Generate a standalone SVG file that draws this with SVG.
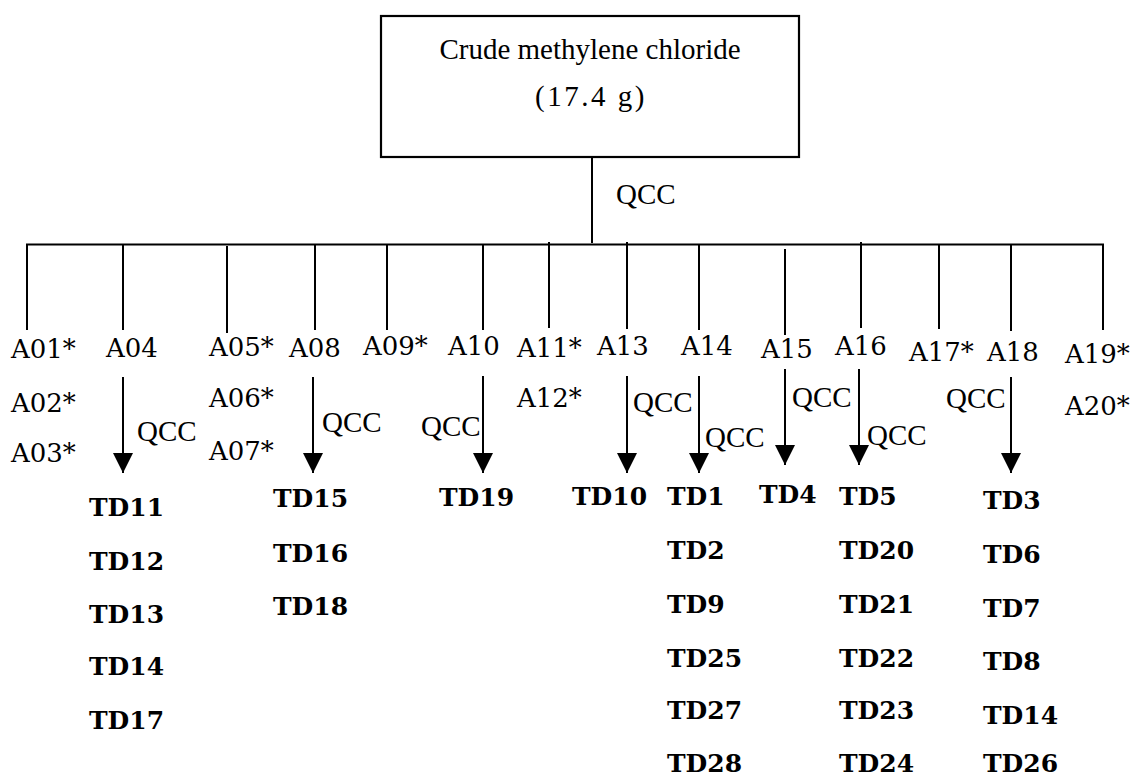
<svg xmlns="http://www.w3.org/2000/svg" width="1135" height="776" viewBox="0 0 1135 776">
  <style>
    .ln { stroke: #000; stroke-width: 2; fill: none; }
    .box { stroke: #000; stroke-width: 2.2; fill: #fff; }
    .times { font-family: "Liberation Serif", "Times New Roman", serif; font-size: 29px; fill: #000; }
    .frac { font-family: "DejaVu Serif", "Liberation Serif", serif; font-size: 26px; fill: #000; }
    .td { font-family: "DejaVu Serif", "Liberation Serif", serif; font-size: 25px; font-weight: bold; fill: #000; }
  </style>
  <defs>
    <marker id="head" viewBox="0 0 20 20" refX="20" refY="10" markerWidth="20" markerHeight="20" markerUnits="userSpaceOnUse" orient="auto">
      <path d="M0,0 L20,10 L0,20 Z" fill="#000"/>
    </marker>
  </defs>
  <rect width="1135" height="776" fill="#fff"/>

  <!-- source sample -->
  <g id="crude">
    <rect class="box" x="381" y="16" width="418" height="141"/>
    <text class="times" x="590" y="59" text-anchor="middle">Crude methylene chloride</text>
    <text class="times" x="591" y="106" text-anchor="middle" letter-spacing="2.5">(17.4 g)</text>
  </g>

  <!-- connectors: splitter tree and QCC arrows -->
  <g id="connectors">
    <line class="ln" x1="592" y1="157" x2="592" y2="243"/>
    <line class="ln" x1="26" y1="244.5" x2="1104" y2="244.5"/>
    <line class="ln" x1="27" y1="244" x2="27" y2="330"/>
    <line class="ln" x1="123" y1="244" x2="123" y2="330"/>
    <line class="ln" x1="227" y1="246" x2="227" y2="333"/>
    <line class="ln" x1="315" y1="244" x2="315" y2="330"/>
    <line class="ln" x1="387" y1="244" x2="387" y2="330"/>
    <line class="ln" x1="483" y1="244" x2="483" y2="330"/>
    <line class="ln" x1="549" y1="242" x2="549" y2="328"/>
    <line class="ln" x1="627" y1="242" x2="627" y2="329"/>
    <line class="ln" x1="699" y1="244" x2="699" y2="330"/>
    <line class="ln" x1="785" y1="249" x2="785" y2="335"/>
    <line class="ln" x1="861" y1="242" x2="861" y2="328"/>
    <line class="ln" x1="939" y1="244" x2="939" y2="329"/>
    <line class="ln" x1="1011" y1="244" x2="1011" y2="331"/>
    <line class="ln" x1="1103" y1="244" x2="1103" y2="330"/>

    <line class="ln" x1="123" y1="377" x2="123" y2="473" marker-end="url(#head)"/>
    <line class="ln" x1="313" y1="377" x2="313" y2="473" marker-end="url(#head)"/>
    <line class="ln" x1="483" y1="376" x2="483" y2="473" marker-end="url(#head)"/>
    <line class="ln" x1="627" y1="376" x2="627" y2="473" marker-end="url(#head)"/>
    <line class="ln" x1="699" y1="376" x2="699" y2="473" marker-end="url(#head)"/>
    <line class="ln" x1="785" y1="369" x2="785" y2="465" marker-end="url(#head)"/>
    <line class="ln" x1="859" y1="369" x2="859" y2="465" marker-end="url(#head)"/>
    <line class="ln" x1="1011" y1="377" x2="1011" y2="473" marker-end="url(#head)"/>

    <text class="times" x="616" y="204">QCC</text>
    <text class="times" x="137" y="441">QCC</text>
    <text class="times" x="322" y="432">QCC</text>
    <text class="times" x="421" y="436">QCC</text>
    <text class="times" x="633" y="412">QCC</text>
    <text class="times" x="705" y="447">QCC</text>
    <text class="times" x="792" y="407">QCC</text>
    <text class="times" x="867" y="445">QCC</text>
    <text class="times" x="946" y="408">QCC</text>
  </g>

  <!-- fractions -->
  <g id="f-a01"><text class="frac" x="11" y="358">A01*</text><text class="frac" x="11" y="412">A02*</text><text class="frac" x="11" y="462">A03*</text></g>
  <g id="f-a04"><text class="frac" x="106" y="357">A04</text></g>
  <g id="f-a05"><text class="frac" x="209" y="356">A05*</text><text class="frac" x="209" y="407">A06*</text><text class="frac" x="209" y="460">A07*</text></g>
  <g id="f-a08"><text class="frac" x="289" y="357">A08</text></g>
  <g id="f-a09"><text class="frac" x="363" y="355">A09*</text></g>
  <g id="f-a10"><text class="frac" x="448" y="355">A10</text></g>
  <g id="f-a11"><text class="frac" x="517" y="357">A11*</text><text class="frac" x="517" y="407">A12*</text></g>
  <g id="f-a13"><text class="frac" x="597" y="355">A13</text></g>
  <g id="f-a14"><text class="frac" x="681" y="355">A14</text></g>
  <g id="f-a15"><text class="frac" x="761" y="358">A15</text></g>
  <g id="f-a16"><text class="frac" x="835" y="355">A16</text></g>
  <g id="f-a17"><text class="frac" x="909" y="361">A17*</text></g>
  <g id="f-a18"><text class="frac" x="987" y="361">A18</text></g>
  <g id="f-a19"><text class="frac" x="1065" y="363">A19*</text><text class="frac" x="1065" y="415">A20*</text></g>

  <!-- isolated compounds -->
  <g id="td-a04">
    <text class="td" x="89" y="516">TD11</text>
    <text class="td" x="89" y="570">TD12</text>
    <text class="td" x="89" y="623">TD13</text>
    <text class="td" x="89" y="675">TD14</text>
    <text class="td" x="89" y="729">TD17</text>
  </g>
  <g id="td-a08">
    <text class="td" x="273" y="507">TD15</text>
    <text class="td" x="273" y="562">TD16</text>
    <text class="td" x="273" y="615">TD18</text>
  </g>
  <g id="td-a10"><text class="td" x="439" y="506">TD19</text></g>
  <g id="td-a13"><text class="td" x="572" y="505">TD10</text></g>
  <g id="td-a14">
    <text class="td" x="667" y="505">TD1</text>
    <text class="td" x="667" y="559">TD2</text>
    <text class="td" x="667" y="613">TD9</text>
    <text class="td" x="667" y="667">TD25</text>
    <text class="td" x="667" y="719">TD27</text>
    <text class="td" x="667" y="772">TD28</text>
  </g>
  <g id="td-a15"><text class="td" x="759" y="503">TD4</text></g>
  <g id="td-a16">
    <text class="td" x="839" y="505">TD5</text>
    <text class="td" x="839" y="559">TD20</text>
    <text class="td" x="839" y="613">TD21</text>
    <text class="td" x="839" y="667">TD22</text>
    <text class="td" x="839" y="719">TD23</text>
    <text class="td" x="839" y="772">TD24</text>
  </g>
  <g id="td-a18">
    <text class="td" x="983" y="509">TD3</text>
    <text class="td" x="983" y="563">TD6</text>
    <text class="td" x="983" y="617">TD7</text>
    <text class="td" x="983" y="670">TD8</text>
    <text class="td" x="983" y="724">TD14</text>
    <text class="td" x="983" y="772">TD26</text>
  </g>
</svg>
